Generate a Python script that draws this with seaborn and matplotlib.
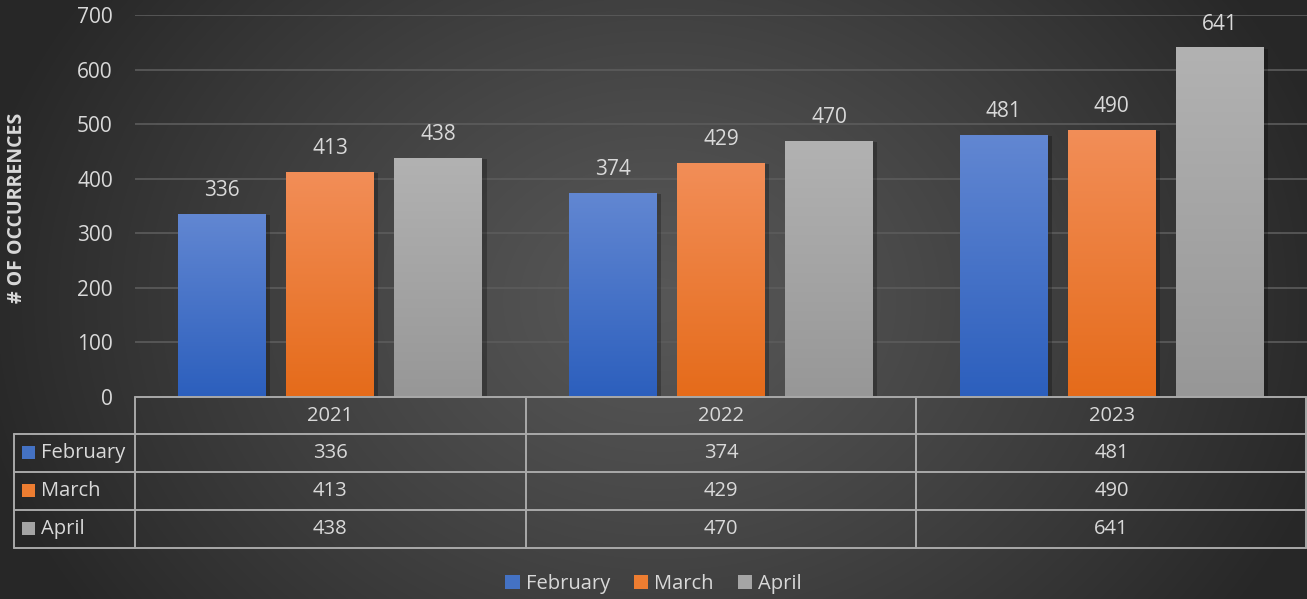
import numpy as np
import pandas as pd
import matplotlib
matplotlib.use('Agg')
import matplotlib.pyplot as plt
import matplotlib.patheffects as pe
from matplotlib.patches import Patch, Rectangle
from matplotlib.transforms import blended_transform_factory
import seaborn as sns

years = ['2021', '2022', '2023']
months = ['February', 'March', 'April']
february = [336, 374, 481]
march = [413, 429, 490]
april = [438, 470, 641]

# top / bottom colours of the gradient bars
grad_top = {'February': '#6287d2', 'March': '#f28e58', 'April': '#b2b2b2'}
grad_bot = {'February': '#2c5fbd', 'March': '#e56b1a', 'April': '#979797'}
mid = {'February': '#4472c4', 'March': '#ed7d31', 'April': '#a5a5a5'}
txt = '#d9d9d9'
line_c = '#a9a9a9'

df = pd.DataFrame({
    'Year': years * 3,
    'Month': [m for m in months for _ in years],
    'Count': february + march + april,
})

sns.set_theme(style='dark')
plt.rcParams['font.family'] = ['Open Sans', 'DejaVu Sans']

fig = plt.figure(figsize=(13.07, 5.99), dpi=100)

# radial-ish background
bg = fig.add_axes([0, 0, 1, 1], zorder=-10)
W, H = 1307, 599
xx, yy = np.meshgrid(np.arange(W), np.arange(H))
r = np.sqrt(((xx - 660) / 700.0) ** 2 + ((yy - 300) / 560.0) ** 2)
r = np.clip(r, 0, 1) ** 1.2
c0, c1 = 0x57 / 255, 0x27 / 255
img = c0 + (c1 - c0) * r
bg.imshow(np.dstack([img, img, img]), extent=(0, 1, 0, 1), aspect='auto')
bg.axis('off')

ax = fig.add_axes([135 / W, 1 - 397 / H, 1172 / W, 382 / H])
ax.set_facecolor('none')

sns.barplot(data=df, x='Year', y='Count', hue='Month', hue_order=months,
            palette=mid, width=0.83, gap=0.187, saturation=1,
            legend=False, ax=ax, zorder=3, linewidth=0, edgecolor='none')

for month, cont in zip(months, ax.containers):
    grad = np.linspace(0, 1, 200)[:, None]
    t = np.array(matplotlib.colors.to_rgb(grad_top[month]))
    b = np.array(matplotlib.colors.to_rgb(grad_bot[month]))
    cols = (t + (b - t) * grad)[:, None, :]
    for bar in cont:
        bar.set_linewidth(0)
        bar.set_path_effects([pe.SimplePatchShadow(offset=(3, -1), shadow_rgbFace='black', alpha=0.25),
                              pe.Normal()])
        x0, w, h = bar.get_x(), bar.get_width(), bar.get_height()
        im = ax.imshow(cols, extent=(x0, x0 + w, 0, h), aspect='auto', zorder=4, origin='upper')
        im.set_clip_path(bar)
    ax.bar_label(cont, padding=9, color=txt, fontsize=15)

ax.set_xlim(-0.5, 2.5)
ax.set_ylim(0, 700)
ax.set_yticks(range(0, 701, 100))
ax.set_xticks([])
ax.set_xlabel('')
ax.set_ylabel('')
ax.tick_params(axis='y', length=0, pad=16, labelsize=15, labelcolor=txt)
ax.grid(axis='y', color='#5c5c5c', lw=1.2)
ax.set_axisbelow(True)
for s in ax.spines.values():
    s.set_visible(False)

fig.text(17 / W, 1 - 208 / H, '# OF OCCURRENCES', rotation=90, ha='center', va='center',
         fontsize=14, fontweight='bold', color=txt)

# data table under the chart
ta = ax.transAxes
left = -0.1032
rows_y = [0, -0.0969, -0.196, -0.296, -0.395]
kw = dict(color=line_c, lw=1.4, transform=ta, clip_on=False, zorder=6)
ax.plot([0, 0.999], [0, 0], **kw)
for y in rows_y[1:]:
    ax.plot([left, 0.999], [y, y], **kw)
ax.plot([left, left], [rows_y[1], rows_y[-1]], **kw)
for x in [0, 1 / 3, 2 / 3, 0.999]:
    ax.plot([x, x], [0, rows_y[-1]], **kw)

bt = blended_transform_factory(ax.transData, ta)
centers = [(rows_y[i] + rows_y[i + 1]) / 2 for i in range(4)]
for i, yr in enumerate(years):
    ax.text(i, centers[0], yr, transform=bt, ha='center', va='center', fontsize=14.5, color=txt)
for j, (month, vals) in enumerate(zip(months, [february, march, april])):
    yc = centers[j + 1]
    for i, v in enumerate(vals):
        ax.text(i, yc, str(v), transform=bt, ha='center', va='center', fontsize=14.5, color=txt)
    ax.add_patch(Rectangle((-0.0964, yc - 0.017), 0.0111, 0.034, transform=ta, clip_on=False,
                           facecolor=mid[month], edgecolor='none', zorder=6))
    ax.text(-0.0802, yc, month, transform=ta, ha='left', va='center', fontsize=14.5, color=txt)

handles = [Patch(facecolor=mid[m], edgecolor='none', label=m) for m in months]
leg = fig.legend(handles=handles, loc='center', bbox_to_anchor=(0.5, 1 - 584 / H), ncol=3,
                 frameon=False, fontsize=14.5, handlelength=0.7, handleheight=0.7,
                 handletextpad=0.3, columnspacing=1.2)
for t in leg.get_texts():
    t.set_color(txt)

fig.savefig('out.png', dpi=100)
